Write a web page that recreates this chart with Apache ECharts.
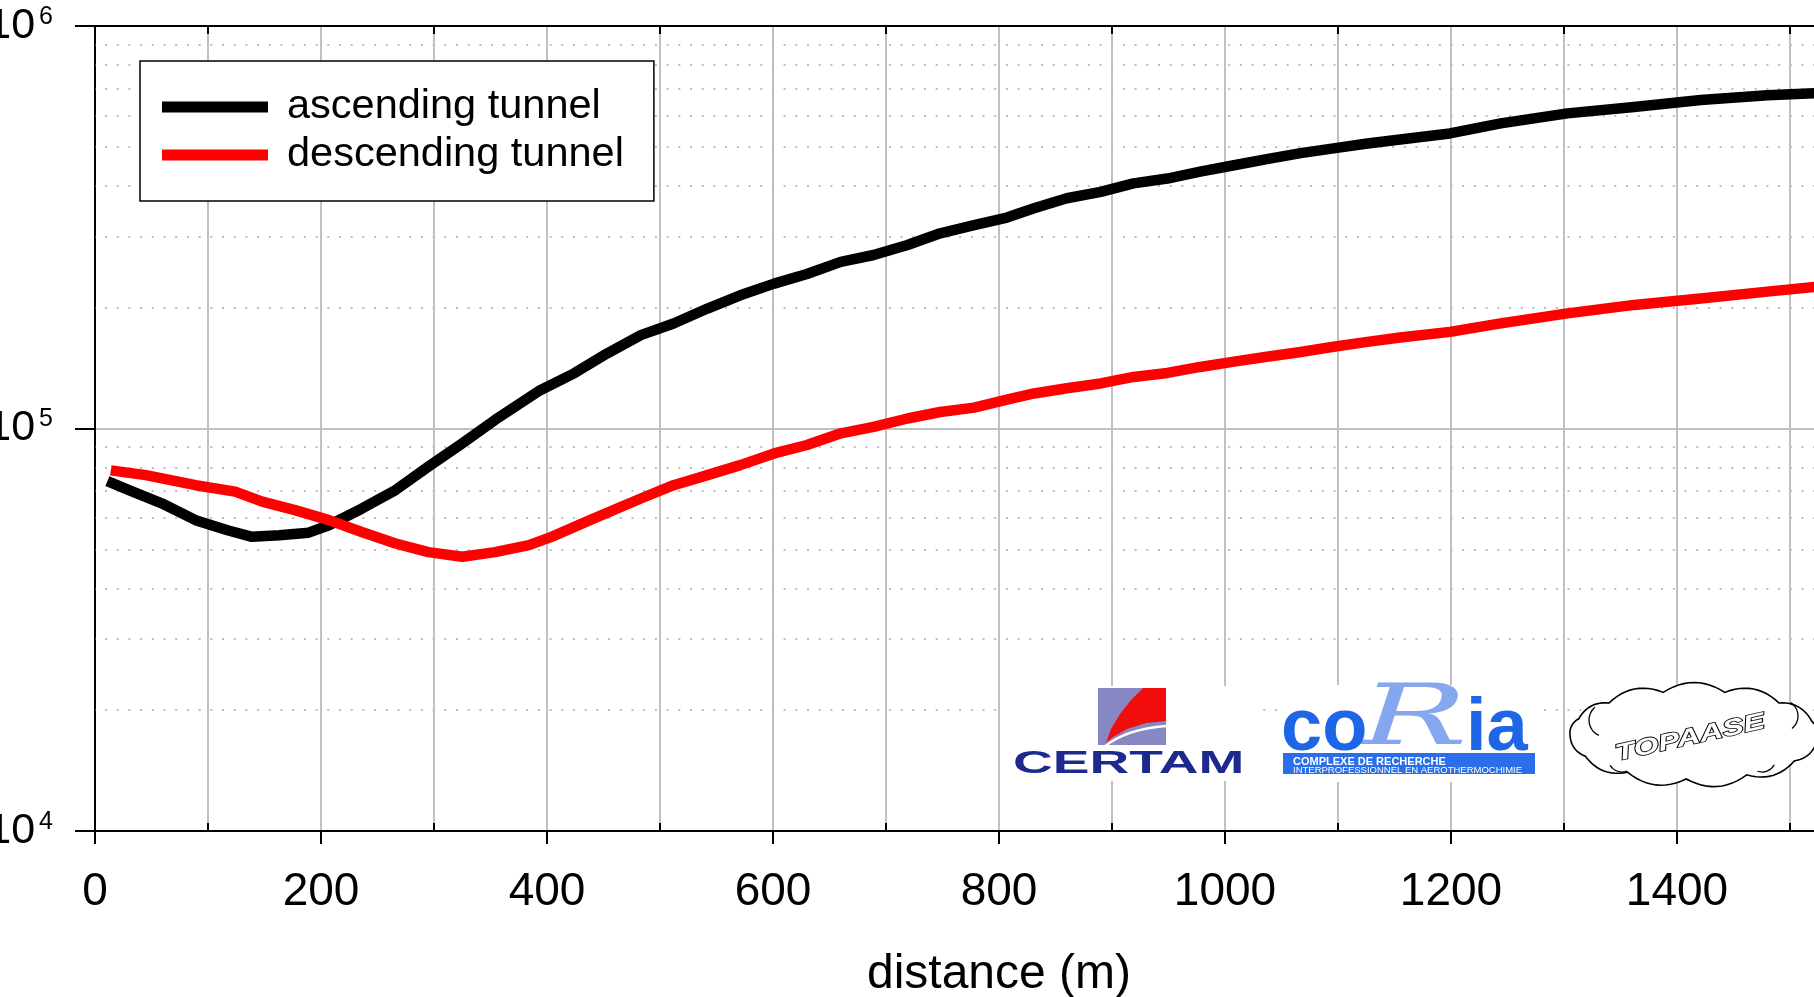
<!DOCTYPE html>
<html>
<head>
<meta charset="utf-8">
<script src="https://cdn.jsdelivr.net/npm/echarts@6/dist/echarts.min.js"></script>
<style>
  html, body { margin: 0; padding: 0; background: #fff; }
  #chart { width: 1814px; height: 997px; }
</style>
</head>
<body>
<div id="chart"></div>
<script>
// Distance along the tunnel (m) and measured values, ascending tunnel
const ascDist = [11, 30, 59, 89, 118, 139, 163, 189, 207, 236, 266, 295, 325, 354, 394,
  424, 453, 483, 512, 542, 571, 601, 630, 660, 689, 719, 748, 778, 807, 831,
  860, 890, 919, 949, 978, 1008, 1037, 1067, 1096, 1126, 1155, 1199, 1244, 1303, 1362,
  1421, 1480, 1523];
const ascVal = [74000, 70300, 65200, 59200, 55800, 53800, 54300, 55100, 57500, 63200,
  70300, 80400, 91800, 105000, 124500, 137100, 153500, 170600, 182400, 198600,
  214300, 229100, 242100, 259400, 269800, 285800, 305500, 319900, 334200, 352400,
  373300, 387300, 406400, 417800, 434500, 450800, 466700, 483100, 496600, 510500,
  522400, 540800, 572800, 606700, 629500, 654600, 673000, 680800];

// Descending tunnel
const desDist = [14, 45, 89, 124, 148, 177, 207, 236, 266, 295, 325, 354, 384, 404, 438,
  483, 512, 542, 571, 601, 630, 660, 689, 719, 748, 778, 807, 831, 860, 890,
  919, 949, 978, 1008, 1037, 1067, 1096, 1126, 1155, 1199, 1244, 1303, 1362, 1421, 1480,
  1523];
const desVal = [78700, 76600, 72300, 69700, 65800, 62700, 59200, 55300, 51800, 49300,
  48000, 49300, 51300, 53800, 59200, 67000, 72300, 76600, 81100, 86700,
  91000, 97300, 100900, 105900, 109900, 112700, 118000, 122200, 125900, 129400,
  134300, 137400, 142200, 146600, 150700, 154900, 159600, 164100, 168300, 173800,
  182400, 193200, 202800, 210400, 218800, 224900];

const seriesNames = ['ascending tunnel', 'descending tunnel'];
const xAxisName = 'distance (m)';
const xRange = [0, 1600];
const yRange = [1e4, 1e6];
// Intermediate log-grid values (2..9 per decade)
const minorLevels = [2e4, 3e4, 4e4, 5e4, 6e4, 7e4, 8e4, 9e4,
  2e5, 3e5, 4e5, 5e5, 6e5, 7e5, 8e5, 9e5];

const FONT = "'Liberation Sans', Arial, sans-serif";

function pairs(xs, ys) { return xs.map((x, i) => [x, ys[i]]); }

// Scalloped cloud outline: bumps along an ellipse, returned as polygon points
function cloudPoints(cx, cy, rx, ry, fracs, lift) {
  const pts = [];
  const ring = fracs.map(f => {
    const t = -Math.PI + f * 2 * Math.PI;
    return [cx + rx * Math.cos(t), cy + ry * Math.sin(t)];
  });
  for (let i = 0; i < ring.length - 1; i++) {
    const [x0, y0] = ring[i], [x1, y1] = ring[i + 1];
    const dx = x1 - x0, dy = y1 - y0;
    const len = Math.hypot(dx, dy);
    const nx = dy / len, ny = -dx / len;
    const mx = (x0 + x1) / 2, my = (y0 + y1) / 2;
    const c = [mx + nx * len * lift, my + ny * len * lift];
    for (let k = 0; k < 12; k++) {
      const s = k / 12;
      const a = (1 - s) * (1 - s), b = 2 * s * (1 - s), e = s * s;
      pts.push([a * x0 + b * c[0] + e * x1, a * y0 + b * c[1] + e * y1]);
    }
  }
  return pts;
}

const chart = echarts.init(document.getElementById('chart'), null, { renderer: 'canvas' });

const gridLine = { color: '#c0c0c0', width: 2 };
const axisBlack = { color: '#000', width: 2 };

function label(text, x, y, font, fill, extra) {
  return Object.assign({
    type: 'text', z: 13, x: x, y: y,
    style: { text: text, x: 0, y: 0, font: font, fill: fill, align: 'left', verticalAlign: 'middle' }
  }, extra || {});
}

const option = {
  animation: false,
  backgroundColor: '#fff',
  textStyle: { fontFamily: FONT },
  grid: { left: 95, top: 26, width: 1808, height: 805, outerBoundsMode: 'none', containLabel: false },
  legend: {
    data: seriesNames,
    orient: 'vertical',
    left: 140,
    top: 61,
    backgroundColor: '#fff',
    borderColor: '#000',
    borderWidth: 1.5,
    borderRadius: 0,
    padding: [25, 30, 25, 22],
    itemWidth: 106,
    itemHeight: 11,
    itemGap: 6,
    icon: 'rect',
    textStyle: { fontSize: 41.5, fontFamily: FONT, color: '#000', padding: [0, 0, 0, 14] }
  },
  xAxis: [
    {
      type: 'value', position: 'bottom', min: xRange[0], max: xRange[1], interval: 200,
      name: xAxisName, nameLocation: 'middle', nameGap: 120,
      nameTextStyle: { fontSize: 48, fontFamily: FONT, color: '#000' },
      axisLine: { show: true, lineStyle: axisBlack },
      axisTick: { show: true, length: 13, lineStyle: axisBlack },
      minorTick: { show: true, splitNumber: 2, length: -8, lineStyle: axisBlack },
      splitLine: { show: true, lineStyle: gridLine },
      minorSplitLine: { show: true, lineStyle: gridLine },
      axisLabel: { fontSize: 46, fontFamily: FONT, color: '#000', margin: 38, formatter: v => String(v) }
    },
    {
      type: 'value', position: 'top', min: xRange[0], max: xRange[1], interval: 200,
      axisLine: { show: true, lineStyle: axisBlack },
      axisTick: { show: false, inside: true },
      minorTick: { show: true, splitNumber: 2, length: 8, lineStyle: axisBlack },
      splitLine: { show: false },
      axisLabel: { show: false }
    }
  ],
  yAxis: {
    type: 'log', logBase: 10, min: yRange[0], max: yRange[1],
    axisLine: { show: true, lineStyle: axisBlack },
    axisTick: { show: true, length: 20, lineStyle: axisBlack },
    splitLine: { show: true, lineStyle: gridLine },
    axisLabel: {
      margin: 42,
      formatter: v => '{b|10}{s|' + Math.round(Math.log10(v)) + '}',
      rich: {
        b: { fontSize: 43, lineHeight: 43, fontFamily: FONT, color: '#000' },
        s: { fontSize: 25, lineHeight: 33, verticalAlign: 'top', fontFamily: FONT, color: '#000', padding: [0, 0, 0, 4] }
      }
    }
  },
  series: [
    {
      type: 'line', data: [], z: 1, silent: true,
      markLine: {
        z: 1, silent: true, symbol: ['none', 'none'], label: { show: false },
        lineStyle: { type: [2, 9.7], dashOffset: 1.7, color: '#bdbdbd', width: 2 },
        data: minorLevels.map(v => ({ yAxis: v }))
      }
    },
    {
      name: seriesNames[0], type: 'line', data: pairs(ascDist, ascVal),
      showSymbol: false, symbol: 'none', z: 6,
      lineStyle: { color: '#000', width: 10.5, cap: 'butt', join: 'round' },
      itemStyle: { color: '#000' }
    },
    {
      name: seriesNames[1], type: 'line', data: pairs(desDist, desVal),
      showSymbol: false, symbol: 'none', z: 7,
      lineStyle: { color: '#ff0000', width: 10.5, cap: 'butt', join: 'round' },
      itemStyle: { color: '#ff0000' }
    }
  ],
  graphic: [
    // CERTAM
    { type: 'rect', z: 10, shape: { x: 1003, y: 686, width: 252, height: 95 }, style: { fill: '#fff' } },
    { type: 'rect', z: 11, shape: { x: 1098, y: 688, width: 68, height: 57 }, style: { fill: '#8787c4' } },
    { type: 'polygon', z: 12, shape: { points: [[1143, 688], [1166, 688], [1166, 721], [1146, 723], [1127, 729], [1113, 737], [1106, 743], [1111, 729], [1120, 714], [1131, 700]] }, style: { fill: '#f20d0d' } },
    { type: 'bezierCurve', z: 13, shape: { x1: 1104, y1: 747, x2: 1166, y2: 726, cpx1: 1126, cpy1: 729 }, style: { fill: null, stroke: '#fff', lineWidth: 2.5 } },
    label('CERTAM', 1013, 764, "bold 32px " + FONT, '#1b2a8c', { scaleX: 1.72 }),
    // CORIA
    { type: 'rect', z: 10, shape: { x: 1283, y: 685, width: 253, height: 97 }, style: { fill: '#fff' } },
    { type: 'rect', z: 11, shape: { x: 1283, y: 753, width: 252, height: 21 }, style: { fill: '#2a6fe9' } },
    { type: 'text', z: 12, x: 1360, y: 722, scaleX: 1.7, style: { text: 'R', x: 0, y: 0, font: "italic 84px 'DejaVu Serif', serif", fill: '#86a6ee', align: 'left', verticalAlign: 'middle' } },
    label('co', 1281, 730, "bold 74px " + FONT, '#1d66e8'),
    label('ia', 1466, 730, "bold 74px " + FONT, '#1d66e8'),
    label('COMPLEXE DE RECHERCHE', 1293, 762, "bold 11px " + FONT, '#fff', { scaleX: 1.0 }),
    label('INTERPROFESSIONNEL EN AEROTHERMOCHIMIE', 1293, 770.5, "9.5px " + FONT, '#fff', { scaleX: 1.0 }),
    // TOPAASE
    { type: 'polygon', z: 10, shape: { points: cloudPoints(1694, 735, 124, 44, [0, 0.06, 0.13, 0.21, 0.29, 0.37, 0.45, 0.52, 0.6, 0.68, 0.76, 0.84, 0.92, 1], 0.32) }, style: { fill: '#fff', stroke: '#000', lineWidth: 1.6 } },
    { type: 'arc', z: 11, shape: { cx: 1606, cy: 720, r: 17, startAngle: 2.0, endAngle: 4.0 }, style: { fill: null, stroke: '#000', lineWidth: 1.3 } },
    { type: 'arc', z: 11, shape: { cx: 1622, cy: 758, r: 14, startAngle: 1.2, endAngle: 2.6 }, style: { fill: null, stroke: '#000', lineWidth: 1.3 } },
    { type: 'arc', z: 11, shape: { cx: 1762, cy: 758, r: 14, startAngle: 0.5, endAngle: 1.9 }, style: { fill: null, stroke: '#000', lineWidth: 1.3 } },
    { type: 'arc', z: 11, shape: { cx: 1782, cy: 716, r: 16, startAngle: -1.0, endAngle: 0.9 }, style: { fill: null, stroke: '#000', lineWidth: 1.3 } },
    { type: 'text', z: 12, x: 1690, y: 738, rotation: 0.22, scaleX: 1.4, style: { text: 'TOPAASE', x: 0, y: 0, font: "italic bold 23px " + FONT, fill: '#fff', stroke: '#000', lineWidth: 1.6, align: 'center', verticalAlign: 'middle', textShadowColor: '#333', textShadowOffsetX: 2, textShadowOffsetY: 2, textShadowBlur: 0 } }
  ]
};

chart.setOption(option);
</script>
</body>
</html>
